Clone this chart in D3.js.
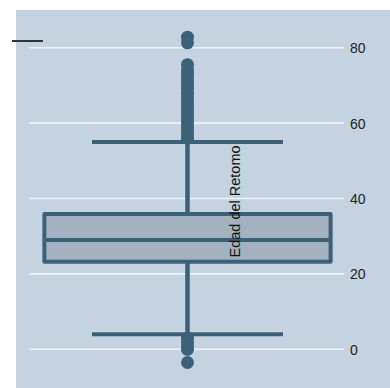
<!DOCTYPE html>
<html>
<head>
<meta charset="utf-8">
<script src="https://cdn.jsdelivr.net/npm/d3@7"></script>
<style>
  html, body { margin: 0; padding: 0; background: #ffffff; }
  svg { display: block; }
</style>
</head>
<body>
<svg id="chart" width="390" height="388"></svg>
<script>
// ---- data ----
const categories = ["Edad del Retomo"];
const q1Values = [23.2];
const medianValues = [29];
const q3Values = [35.9];
const lowerWhisker = [4];
const upperWhisker = [55];
const outliers = [
  [-3.5, 0, 1, 2, 3,
   56, 57, 58, 59, 60, 61, 62, 63, 64, 65, 66, 67, 68, 69, 70, 71, 72, 73, 74, 75.5,
   81.3, 82.8]
];
const tickValues = [0, 20, 40, 60, 80];
const axisTitle = "Edad del Retomo";

// ---- drawing ----
const svg = d3.select("#chart");
const dark = "#3d6079";
const boxFill = "#a2b2be";

svg.append("rect").attr("x", 16).attr("y", 10).attr("width", 374).attr("height", 378)
  .attr("fill", "#c5d3e0");

const y = d3.scaleLinear().domain([0, 80]).range([349.3, 47.7]);
const x = d3.scaleBand().domain(categories).range([29, 346]).padding(0);
const bw = x.bandwidth();

// gridlines
svg.append("g").selectAll("line").data(tickValues).join("line")
  .attr("x1", 29).attr("x2", 344)
  .attr("y1", d => y(d)).attr("y2", d => y(d))
  .attr("stroke", "#eef2f6").attr("stroke-width", 1.6);

// right axis labels
const axis = d3.axisRight(y).tickValues(tickValues).tickSize(0).tickPadding(0);
const ag = svg.append("g").attr("transform", "translate(350,0)").call(axis);
ag.select(".domain").remove();
ag.selectAll("text").attr("font-family", "Liberation Sans, Arial, sans-serif")
  .attr("font-size", 14).attr("fill", "#222").attr("dy", "0.35em");

// stray line top-left
svg.append("line").attr("x1", 12).attr("x2", 43).attr("y1", 41).attr("y2", 41)
  .attr("stroke", "#333").attr("stroke-width", 2);

categories.forEach((c, i) => {
  const cx = x(c) + bw / 2;
  const boxW = bw * 0.903;
  const capW = bw * 0.6025;
  const g = svg.append("g");
  // whisker line
  g.append("line").attr("x1", cx).attr("x2", cx)
    .attr("y1", y(lowerWhisker[i])).attr("y2", y(upperWhisker[i]))
    .attr("stroke", dark).attr("stroke-width", 4.5);
  // caps
  [lowerWhisker[i], upperWhisker[i]].forEach(v => {
    g.append("line").attr("x1", cx - capW / 2).attr("x2", cx + capW / 2)
      .attr("y1", y(v)).attr("y2", y(v))
      .attr("stroke", dark).attr("stroke-width", 4);
  });
  // box
  g.append("rect").attr("x", cx - boxW / 2).attr("width", boxW)
    .attr("y", y(q3Values[i])).attr("height", y(q1Values[i]) - y(q3Values[i]))
    .attr("fill", boxFill).attr("stroke", dark).attr("stroke-width", 4)
    .attr("stroke-linejoin", "round");
  g.append("line").attr("x1", cx - boxW / 2).attr("x2", cx + boxW / 2)
    .attr("y1", y(medianValues[i])).attr("y2", y(medianValues[i]))
    .attr("stroke", dark).attr("stroke-width", 4);
  // outliers
  g.selectAll("circle").data(outliers[i]).join("circle")
    .attr("cx", cx).attr("cy", d => y(d)).attr("r", 6.5)
    .attr("fill", dark);
});

// rotated title
svg.append("text")
  .attr("transform", "translate(240,201.5) rotate(-90)")
  .attr("text-anchor", "middle")
  .attr("font-family", "Liberation Sans, Arial, sans-serif")
  .attr("font-size", 14.5).attr("fill", "#111")
  .text(axisTitle);
</script>
</body>
</html>
